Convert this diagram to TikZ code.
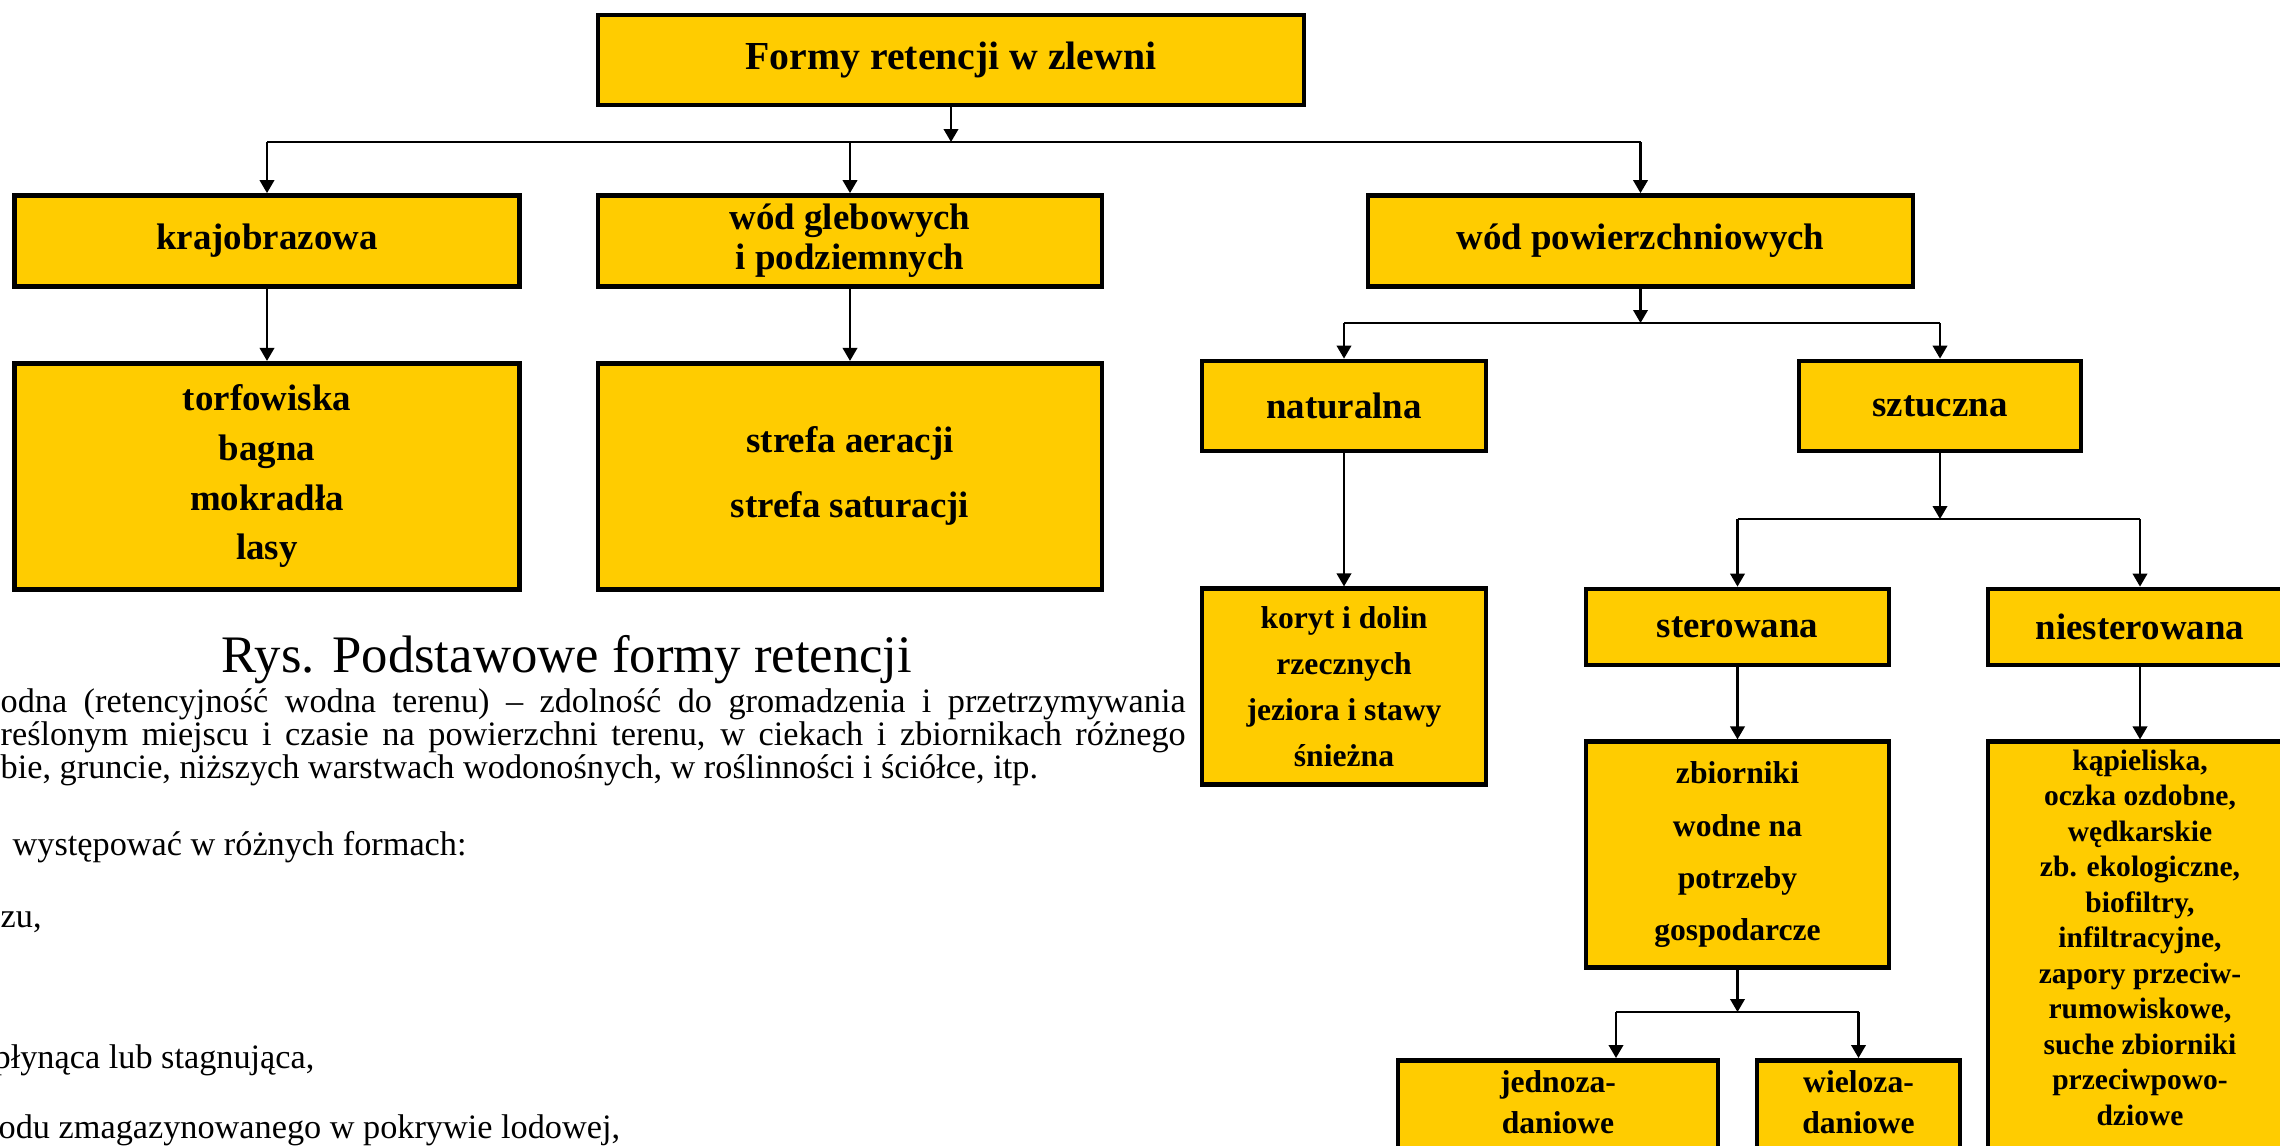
\documentclass[tikz,border=0pt]{standalone}
\usepackage{fontspec}
\setmainfont{Liberation Serif}
\usetikzlibrary{arrows.meta, positioning}
\usepackage{xcolor}
\definecolor{boxyellow}{HTML}{FFCC00}

\begin{document}
\begin{tikzpicture}

    \tikzstyle{box} = [rectangle, draw=black, line width=0.048cm, fill=boxyellow, inner sep=0pt, align=center, font=\bfseries\fontsize{10.5}{12.6}\selectfont]
    \tikzstyle{busline} = [line width=0.022cm]
    \tikzstyle{arrow} = [line width=0.022cm, -{Triangle[length=0.13cm, width=0.145cm]}]
    \tikzstyle{txt} = [inner sep=0pt, anchor=base west, font=\fontsize{9.75}{9.4}\selectfont]

    \useasboundingbox (0,0) rectangle (22.8,-11.45);
    \clip (0,0) rectangle (22.8,-11.45);

    % top level
    \node (top) [box, minimum width=7.06cm, minimum height=0.90cm, font=\bfseries\fontsize{11.3}{13}\selectfont] at (9.51,-0.60) {Formy retencji w zlewni};

    \node (kraj) [box, minimum width=5.05cm, minimum height=0.91cm] at (2.67,-2.41) {krajobrazowa};
    \node (gleb) [box, minimum width=5.04cm, minimum height=0.91cm, font=\bfseries\fontsize{10.5}{11.4}\selectfont] at (8.50,-2.41) {wód glebowych\\ i podziemnych};
    \node (pow) [box, minimum width=5.45cm, minimum height=0.91cm] at (16.405,-2.41) {wód powierzchniowych};

    \node (torf) [box, below=0.72cm of kraj, minimum width=5.05cm, minimum height=2.26cm, font=\bfseries\fontsize{10.5}{14.1}\selectfont] {torfowiska\\ bagna\\ mokradła\\ lasy};
    \node (strefa) [box, below=0.72cm of gleb, minimum width=5.04cm, minimum height=2.26cm, font=\bfseries\fontsize{10.5}{19.1}\selectfont] {strefa aeracji\\[-0.02cm] strefa saturacji};

    % wody powierzchniowe
    \node (natur) [box, minimum width=2.84cm, minimum height=0.90cm] at (13.44,-4.06) {naturalna};
    \node (sztuczna) [box, minimum width=2.82cm, minimum height=0.90cm] at (19.40,-4.06) {sztuczna};
    \node (koryt) [box, below=1.33cm of natur, minimum width=2.84cm, minimum height=1.96cm, font=\bfseries\fontsize{9}{13.1}\selectfont] {koryt i dolin\\ rzecznych\\ jeziora i stawy\\ śnieżna};

    \node (ster) [box, minimum width=3.03cm, minimum height=0.76cm] at (17.375,-6.27) {sterowana};
    \node (niester) [box, minimum width=3.04cm, minimum height=0.76cm] at (21.40,-6.27) {niesterowana};
    \node (zbiorn) [box, below=0.72cm of ster, minimum width=3.03cm, minimum height=2.26cm, font=\bfseries\fontsize{9}{14.9}\selectfont] {zbiorniki\\ wodne na\\ potrzeby\\ gospodarcze};
    \node (kapiel) [box, below=0.72cm of niester, minimum width=3.04cm, inner ysep=0.08cm, font=\bfseries\fontsize{8.4}{10.1}\selectfont] {kąpieliska,\\ oczka ozdobne,\\ wędkarskie\\ zb. ekologiczne,\\ biofiltry,\\ infiltracyjne,\\ zapory przeciw-\\ rumowiskowe,\\ suche zbiorniki\\ przeciwpowo-\\ dziowe\\[2mm] \mbox{}};

    \node (jedno) [box, anchor=north, minimum width=3.20cm, inner ysep=0.1cm, font=\bfseries\fontsize{9}{11.7}\selectfont] at (15.58,-10.58) {jednoza-\\ daniowe\\[2mm] \mbox{}};
    \node (wielo) [box, anchor=north, minimum width=2.03cm, inner ysep=0.1cm, font=\bfseries\fontsize{9}{11.7}\selectfont] at (18.585,-10.58) {wieloza-\\ daniowe\\[2mm] \mbox{}};

    % connectors
    \coordinate (b1) at (9.51,-1.42);
    \draw [arrow] (top) -- (b1);
    \draw [busline] (kraj.north |- b1) -- (pow.north |- b1);
    \foreach \n in {kraj, gleb, pow}
        \draw [arrow] (\n.north |- b1) -- (\n);
    \draw [arrow] (kraj) -- (torf);
    \draw [arrow] (gleb) -- (strefa);

    \coordinate (b2) at (16.405,-3.23);
    \draw [arrow] (pow) -- (b2);
    \draw [busline] (natur.north |- b2) -- (sztuczna.north |- b2);
    \foreach \n in {natur, sztuczna}
        \draw [arrow] (\n.north |- b2) -- (\n);
    \draw [arrow] (natur) -- (koryt);

    \coordinate (b3) at (19.40,-5.19);
    \draw [arrow] (sztuczna) -- (b3);
    \draw [busline] (ster.north |- b3) -- (niester.north |- b3);
    \foreach \n in {ster, niester}
        \draw [arrow] (\n.north |- b3) -- (\n);
    \draw [arrow] (ster) -- (zbiorn);
    \draw [arrow] (niester) -- (kapiel);

    \coordinate (b4) at (17.375,-10.12);
    \coordinate (b4w) at (16.16,-10.12);
    \draw [arrow] (zbiorn) -- (b4);
    \draw [busline] (b4w) -- (wielo.north |- b4);
    \draw [arrow] (b4w) -- (b4w |- jedno.north);
    \draw [arrow] (wielo.north |- b4) -- (wielo);

    % caption and text
    \node (caption) [inner sep=0pt, anchor=base, font=\fontsize{15}{18}\selectfont] at (5.67,-6.72) {Rys. Podstawowe formy retencji};

    \node (def1) [txt] at (0,-7.12) {\makebox[11.85cm][s]{odna (retencyjność wodna terenu) – zdolność do gromadzenia i przetrzymywania}};
    \node (def2) [txt] at (0,-7.45) {\makebox[11.85cm][s]{reślonym miejscu i czasie na powierzchni terenu, w ciekach i zbiornikach różnego}};
    \node (def3) [txt] at (0,-7.78) {bie, gruncie, niższych warstwach wodonośnych, w roślinności i ściółce, itp.};

    \node (forms) [txt] at (0.12,-8.55) {występować w różnych formach:};
    \node (item1) [txt] at (0,-9.27) {zu,};
    \node (item2) [txt] at (-0.07,-10.68) {płynąca lub stagnująca,};
    \node (item3) [txt] at (-0.02,-11.38) {odu zmagazynowanego w pokrywie lodowej,};

\end{tikzpicture}
\end{document}
